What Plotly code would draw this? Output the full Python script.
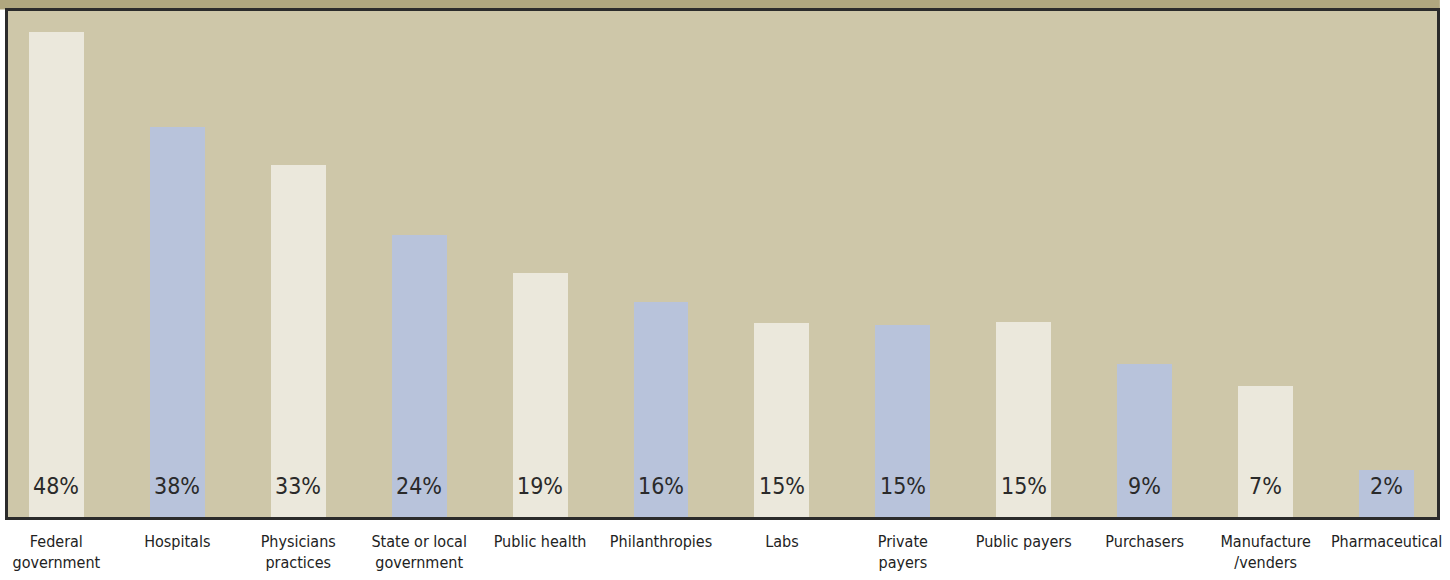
import plotly.graph_objects as go

categories = ["Federal<br>government", "Hospitals", "Physicians<br>practices",
              "State or local<br>government", "Public health", "Philanthropies",
              "Labs", "Private<br>payers", "Public payers", "Purchasers",
              "Manufacture<br>/venders", "Pharmaceutical"]
# bar heights as drawn in the picture (axis units)
heights = [48, 38.6, 34.8, 27.9, 24.1, 21.3, 19.2, 19.0, 19.3, 15.1, 13.0, 4.6]
# printed labels
labels = ["48%", "38%", "33%", "24%", "19%", "16%", "15%", "15%", "15%", "9%", "7%", "2%"]

CREAM = "#EBE8DC"
BLUE = "#B8C3DB"
colors = [CREAM if i % 2 == 0 else BLUE for i in range(len(categories))]
FONT = "DejaVu Sans Condensed, Liberation Sans Narrow, Arial Narrow, sans-serif"
xs = list(range(len(categories)))

fig = go.Figure()
fig.add_trace(go.Bar(x=xs, y=heights, marker=dict(color=colors, line=dict(width=0)),
                     width=0.454, hoverinfo="skip"))

for xi, lab in zip(xs, labels):
    fig.add_annotation(x=xi, y=0, xref="x", yref="y", text=lab, showarrow=False,
                       yanchor="middle", yshift=31,
                       font=dict(family=FONT, size=23, color="#2a2a2a"))

# top banner strip (bottom edge of the cut-off title area)
fig.add_shape(type="rect", xref="paper", yref="paper", x0=-0.0056, x1=1.002,
              y0=1.003, y1=1.03, fillcolor="#B0A77F", line=dict(width=0), layer="below")

fig.update_layout(
    width=1450, height=580,
    margin=dict(l=8, r=11, t=8, b=61),
    paper_bgcolor="white",
    plot_bgcolor="#CEC7A9",
    showlegend=False,
    bargap=0,
    xaxis=dict(range=[-0.40, 11.417], tickmode="array", tickvals=xs, ticktext=categories,
               showgrid=False, zeroline=False, showline=True, mirror=True,
               linecolor="#2B2B2B", linewidth=2.5, ticks="outside", ticklen=8,
               tickcolor="rgba(0,0,0,0)", ticklabeloverflow="allow",
               tickfont=dict(family=FONT, size=16, color="#222222")),
    yaxis=dict(range=[0, 50.05], showgrid=False, zeroline=False, showticklabels=False,
               showline=True, mirror=True, linecolor="#2B2B2B", linewidth=2.5, ticks=""),
)

fig.write_html("out.html", config={"displayModeBar": False},
               post_script="document.body.style.margin='0';")
